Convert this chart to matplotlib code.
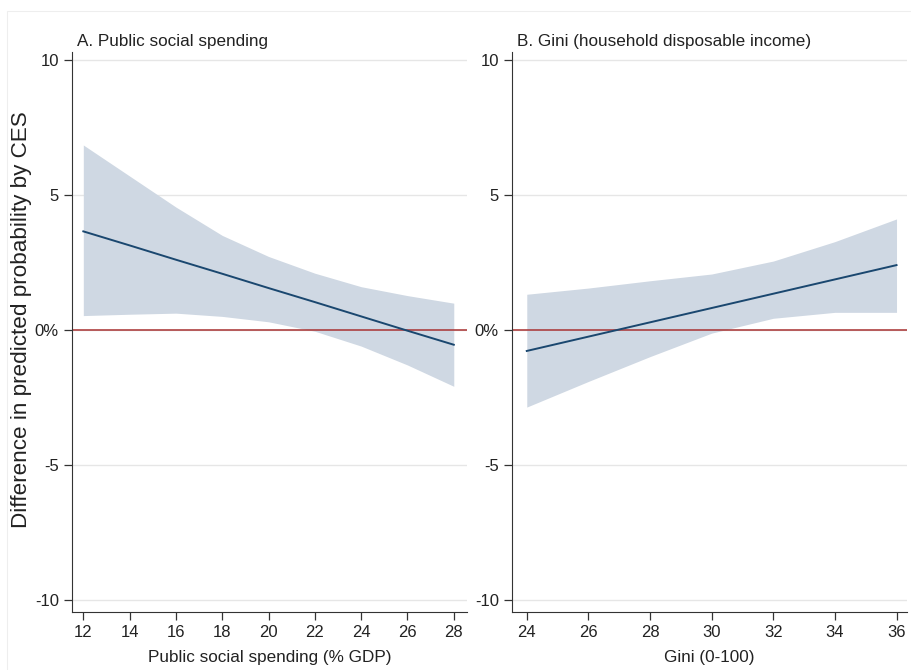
import matplotlib.pyplot as plt
from matplotlib.patches import Rectangle

plt.rcParams['font.family'] = ['Liberation Sans', 'DejaVu Sans']

# Panel A: public social spending (% GDP)
spend_x = [12, 14, 16, 18, 20, 22, 24, 26, 28]
spend_mid = [3.65, 3.13, 2.60, 2.08, 1.55, 1.03, 0.50, -0.03, -0.55]
spend_hi = [6.85, 5.70, 4.55, 3.50, 2.72, 2.10, 1.60, 1.27, 0.99]
spend_lo = [0.53, 0.58, 0.62, 0.50, 0.30, -0.05, -0.60, -1.30, -2.09]

# Panel B: Gini (household disposable income)
gini_x = [24, 26, 28, 30, 32, 34, 36]
gini_mid = [-0.78, -0.25, 0.28, 0.81, 1.34, 1.87, 2.40]
gini_hi = [1.32, 1.55, 1.82, 2.07, 2.55, 3.27, 4.11]
gini_lo = [-2.86, -1.91, -0.99, -0.12, 0.43, 0.65, 0.65]

y_ticks = [-10, -5, 0, 5, 10]
y_labels = ['-10', '-5', '0%', '5', '10']

band_col = '#cfd8e3'
line_col = '#1a476f'
zero_col = '#a83232'

fig = plt.figure(figsize=(9.11, 6.7), dpi=100)
fig.patches.append(Rectangle((0.008, -0.01), 1.0, 0.994, transform=fig.transFigure,
                             fill=False, edgecolor='#eeeeee', linewidth=0.8))

ax1 = fig.add_axes([0.079, 0.0866, 0.4336, 0.836])
ax2 = fig.add_axes([0.562, 0.0866, 0.4336, 0.836])

panels = [
    (ax1, spend_x, spend_mid, spend_hi, spend_lo, (11.51, 28.57),
     'A. Public social spending', 'Public social spending (% GDP)'),
    (ax2, gini_x, gini_mid, gini_hi, gini_lo, (23.52, 36.34),
     'B. Gini (household disposable income)', 'Gini (0-100)'),
]

for ax, xs, mid, hi, lo, xlim, title, xlabel in panels:
    for yv in y_ticks:
        ax.axhline(yv, color='#e6e6e6', linewidth=1.0, zorder=0)
    ax.fill_between(xs, lo, hi, color=band_col, linewidth=0, zorder=1)
    ax.axhline(0, color=zero_col, linewidth=1.1, zorder=2)
    ax.plot(xs, mid, color=line_col, linewidth=1.4, zorder=3)
    ax.set_xlim(*xlim)
    ax.set_ylim(-10.45, 10.3)
    ax.set_xticks(xs)
    ax.set_yticks(y_ticks)
    ax.set_yticklabels(y_labels)
    ax.tick_params(axis='both', direction='out', length=6, width=0.9,
                   color='#333333', labelsize=12, labelcolor='#222222')
    ax.spines['top'].set_visible(False)
    ax.spines['right'].set_visible(False)
    ax.spines['left'].set_color('#333333')
    ax.spines['bottom'].set_color('#333333')
    ax.set_xlabel(xlabel, fontsize=12.3, color='#222222', labelpad=7)
    ax.text(0.012, 1.011, title, transform=ax.transAxes, fontsize=12.3,
            color='#222222', ha='left', va='baseline')

ax1.set_ylabel('Difference in predicted probability by CES', fontsize=16.2,
               color='#222222')
ax1.yaxis.set_label_coords(-0.10, 0.522)

fig.savefig('out.png', dpi=100, facecolor='white')
